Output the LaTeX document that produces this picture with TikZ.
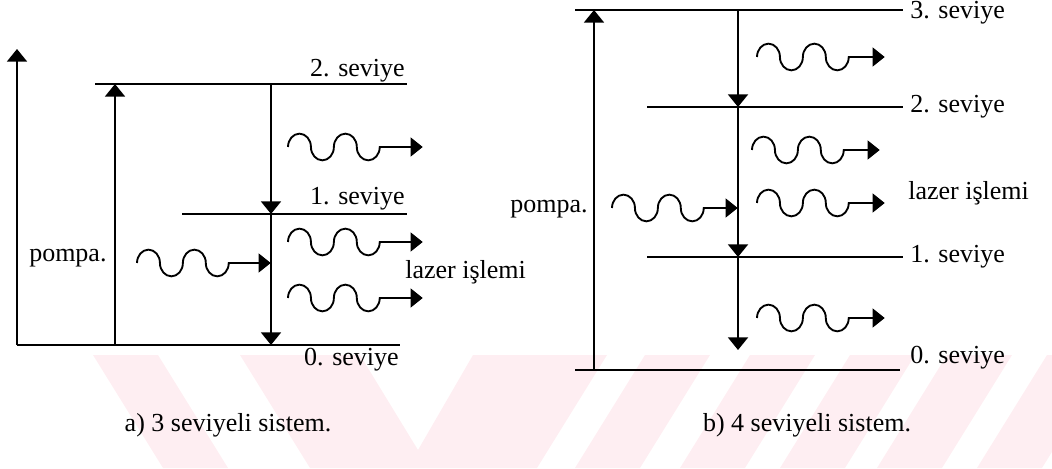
\documentclass[tikz,border=0pt]{standalone}
\usepackage{fontspec}
\setmainfont{Liberation Serif}
\usetikzlibrary{arrows.meta}
\definecolor{wm}{RGB}{254,238,242}
\begin{document}
\begin{tikzpicture}[x=0.75pt,y=0.75pt,
  every node/.style={font=\fontsize{19.5}{22}\selectfont, inner sep=0pt},
  lvl/.style={line width=1.7pt},
  tipped/.style={line width=1.5pt,-{Triangle[length=9.5pt,width=15pt]}},
  phot/.style={line width=1.4pt,-{Triangle[length=9pt,width=14pt]}},
  pics/photon/.style={code={
    \draw[phot] (0,0) arc[start angle=180,end angle=0,x radius=8.6pt,y radius=10pt]
      arc[start angle=180,end angle=360,x radius=8.6pt,y radius=10pt]
      arc[start angle=180,end angle=0,x radius=8.6pt,y radius=10pt]
      arc[start angle=180,end angle=360,x radius=8.6pt,y radius=10pt] -- ++(#1,0);
  }}]
\useasboundingbox (0,0) rectangle (1052,468);
% watermark
\begin{scope}
\clip (0,0) rectangle (1052,113);
\fill[wm] (93,113) -- (158,113) -- (228,0) -- (163,0) -- cycle;
\fill[wm] (240,113) -- (360,113) -- (418,18) -- (473,113) -- (607,113) -- (537,0) -- (310,0) -- cycle;
\foreach \b in {575,680,780,877,977} {
  \fill[wm] (\b,0) -- (\b+65,0) -- (\b+135,113) -- (\b+70,113) -- cycle;
}
\end{scope}
% ---------- left diagram ----------
\coordinate (aTop) at (17,419);
\coordinate (a0s) at (17,123);
\coordinate (a0e) at (400,123);
\coordinate (a2s) at (95,384);
\coordinate (a2e) at (407,384);
\coordinate (a1s) at (182,254);
\coordinate (a1e) at (407,254);
\coordinate (aP0) at (115,123);
\coordinate (aP2) at (115,384);
\coordinate (aD2) at (271,384);
\coordinate (aD1) at (271,254);
\coordinate (aD0) at (271,123);
\draw[tipped] (a0s) -- (aTop);
\draw[lvl] (a0s) -- (a0e);
\draw[lvl] (a2s) -- (a2e);
\draw[lvl] (a1s) -- (a1e);
\draw[tipped] (aP0) -- (aP2);
\draw[tipped] (aD2) -- (aD1);
\draw[tipped] (aD1) -- (aD0);
\pic at (288,321) {photon=43};
\pic at (288,226) {photon=43};
\pic at (288,170) {photon=43};
\pic at (137,205) {photon=42};
\node[anchor=base east] (aL2) at (405,391) {2. seviye};
\node[anchor=base east] (aL1) at (405,263) {1. seviye};
\node[anchor=base east] (aL0) at (399,103) {0. seviye};
\node[anchor=base west] (aPo) at (29,206) {pompa.};
\node[anchor=base west] (aLz) at (405,190) {lazer işlemi};
\node (aCap) at (228,43) {a) 3 seviyeli sistem.};
% ---------- right diagram ----------
\coordinate (b3s) at (575,458);
\coordinate (b3e) at (903,458);
\coordinate (b2s) at (647,361);
\coordinate (b2e) at (903,361);
\coordinate (b1s) at (647,211);
\coordinate (b1e) at (903,211);
\coordinate (b0s) at (575,98);
\coordinate (b0e) at (900,98);
\coordinate (bP0) at (594,98);
\coordinate (bP3) at (594,458);
\coordinate (bD3) at (738,458);
\coordinate (bD2) at (738,361);
\coordinate (bD1) at (738,211);
\coordinate (bDe) at (738,118);
\draw[lvl] (b3s) -- (b3e);
\draw[lvl] (b2s) -- (b2e);
\draw[lvl] (b1s) -- (b1e);
\draw[lvl] (b0s) -- (b0e);
\draw[tipped] (bP0) -- (bP3);
\draw[tipped] (bD3) -- (bD2);
\draw[tipped] (bD2) -- (bD1);
\draw[tipped] (bD1) -- (bDe);
\pic at (757,411) {photon=36};
\pic at (752,318) {photon=36};
\pic at (757,265) {photon=36};
\pic at (757,150) {photon=36};
\pic at (612,260) {photon=34};
\node[anchor=base west] (bL3) at (910,449) {3. seviye};
\node[anchor=base west] (bL2) at (910,355) {2. seviye};
\node[anchor=base west] (bL1) at (910,205) {1. seviye};
\node[anchor=base west] (bL0) at (910,105) {0. seviye};
\node[anchor=base west] (bLz) at (908,268) {lazer işlemi};
\node[anchor=base east] (bPo) at (588,255) {pompa.};
\node (bCap) at (807,43) {b) 4 seviyeli sistem.};
\end{tikzpicture}
\end{document}
